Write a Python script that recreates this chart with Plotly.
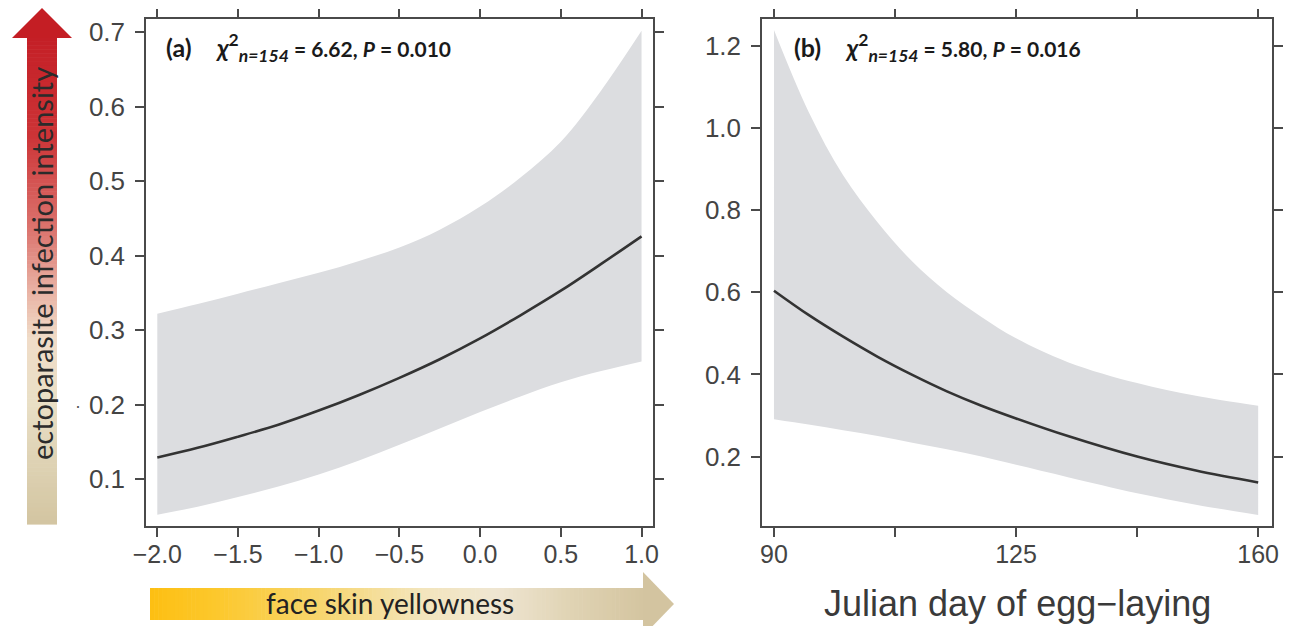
import plotly.graph_objects as go

# ---------------- data ----------------
yellow_x = [-2.0, -1.75, -1.5, -1.25, -1.0, -0.75, -0.5, -0.25, 0.0, 0.25, 0.5, 0.75, 1.0]
yellow_fit = [0.129, 0.142, 0.157, 0.173, 0.192, 0.213, 0.236, 0.261, 0.289, 0.320, 0.353, 0.389, 0.426]
yellow_upper = [0.322, 0.335, 0.349, 0.363, 0.377, 0.393, 0.411, 0.435, 0.466, 0.505, 0.553, 0.622, 0.702]
yellow_lower = [0.052, 0.063, 0.076, 0.090, 0.106, 0.125, 0.146, 0.168, 0.190, 0.211, 0.230, 0.245, 0.258]

day_x = [90, 95, 100, 105, 110, 115, 120, 125, 132.5, 142.5, 151, 160]
day_fit = [0.604, 0.545, 0.492, 0.443, 0.399, 0.359, 0.324, 0.293, 0.250, 0.200, 0.166, 0.137]
day_upper = [1.239, 1.040, 0.885, 0.770, 0.675, 0.600, 0.540, 0.488, 0.430, 0.379, 0.348, 0.324]
day_lower = [0.291, 0.278, 0.264, 0.250, 0.234, 0.218, 0.200, 0.180, 0.150, 0.111, 0.083, 0.058]

a_xticks = [-2.0, -1.5, -1.0, -0.5, 0.0, 0.5, 1.0]
a_xticklabels = ["\u22122.0", "\u22121.5", "\u22121.0", "\u22120.5", "0.0", "0.5", "1.0"]
a_yticks = [0.1, 0.2, 0.3, 0.4, 0.5, 0.6, 0.7]
b_xticks = [90, 107.5, 125, 142.5, 160]
b_xticklabels = ["90", "", "125", "", "160"]
b_yticks = [0.2, 0.4, 0.6, 0.8, 1.0, 1.2]

W, H = 1297, 626
def PX(x):
    return x / W
def PY(y):
    return 1 - y / H

BAND = "#dcdde0"
LINE = "#333333"
AXC = "#4a4a4a"
YTICKFONT = dict(family="Liberation Sans, Arial, sans-serif", size=26, color="#444444")
XTICKFONT = dict(family="Liberation Sans, Arial, sans-serif", size=25, color="#444444")

fig = go.Figure()

# panel a
fig.add_trace(go.Scatter(x=yellow_x, y=yellow_upper, mode="lines", line=dict(width=0, shape="spline"),
                         showlegend=False, hoverinfo="skip", xaxis="x", yaxis="y"))
fig.add_trace(go.Scatter(x=yellow_x, y=yellow_lower, mode="lines", line=dict(width=0, shape="spline"),
                         fill="tonexty", fillcolor=BAND, showlegend=False, hoverinfo="skip", xaxis="x", yaxis="y"))
fig.add_trace(go.Scatter(x=yellow_x, y=yellow_fit, mode="lines", line=dict(width=2.6, color=LINE, shape="spline"),
                         showlegend=False, xaxis="x", yaxis="y"))
# panel b
fig.add_trace(go.Scatter(x=day_x, y=day_upper, mode="lines", line=dict(width=0, shape="spline"),
                         showlegend=False, hoverinfo="skip", xaxis="x2", yaxis="y2"))
fig.add_trace(go.Scatter(x=day_x, y=day_lower, mode="lines", line=dict(width=0, shape="spline"),
                         fill="tonexty", fillcolor=BAND, showlegend=False, hoverinfo="skip", xaxis="x2", yaxis="y2"))
fig.add_trace(go.Scatter(x=day_x, y=day_fit, mode="lines", line=dict(width=2.6, color=LINE, shape="spline"),
                         showlegend=False, xaxis="x2", yaxis="y2"))

axis_common = dict(showline=True, linecolor=AXC, linewidth=1.5, mirror="ticks", ticks="outside",
                   ticklen=9, tickwidth=1.5, tickcolor=AXC, showgrid=False, zeroline=False,
                   automargin=False)

fig.update_layout(
    template="none",
    width=W, height=H, margin=dict(l=0, r=0, t=0, b=0, pad=0),
    paper_bgcolor="white", plot_bgcolor="white", showlegend=False,
    xaxis=dict(domain=[PX(146), PX(653)], range=[-2.07, 1.071], tickvals=a_xticks,
               ticktext=a_xticklabels, anchor="y", ticklabelstandoff=-4, tickfont=XTICKFONT, **axis_common),
    yaxis=dict(domain=[PY(526), PY(19.3)], range=[0.037, 0.7175], tickvals=a_yticks,
               tickformat=".1f", anchor="x", ticklabelstandoff=5, tickfont=YTICKFONT, **axis_common),
    xaxis2=dict(domain=[PX(762), PX(1272)], range=[88.27, 162.0], tickvals=b_xticks,
                ticktext=b_xticklabels, anchor="y2", ticklabelstandoff=-4, tickfont=XTICKFONT, **axis_common),
    yaxis2=dict(domain=[PY(526), PY(19.3)], range=[0.031, 1.265], tickvals=b_yticks,
                tickformat=".1f", anchor="x2", ticklabelstandoff=5, tickfont=YTICKFONT, **axis_common),
)

# ---------- gradient arrows (decoration) ----------
def hex2rgb(h):
    h = h.lstrip("#")
    return tuple(int(h[i:i + 2], 16) for i in (0, 2, 4))

def interp(stops, t):
    for (t0, c0), (t1, c1) in zip(stops[:-1], stops[1:]):
        if t0 <= t <= t1:
            f = 0 if t1 == t0 else (t - t0) / (t1 - t0)
            a, b = hex2rgb(c0), hex2rgb(c1)
            return "rgb(%d,%d,%d)" % tuple(round(a[i] + (b[i] - a[i]) * f) for i in range(3))
    return stops[-1][1]

shapes = []
# vertical arrow (infection intensity)
v_stops = [(0, "#c41f26"), (0.2, "#cc3336"), (0.4, "#dc7670"), (0.52, "#e9b2a4"),
           (0.62, "#f0dcc8"), (0.75, "#e9dfc6"), (1.0, "#d3c5a1")]
top, bot, N = 37, 524, 120
for i in range(N):
    y0 = top + (bot - top) * i / N
    y1 = top + (bot - top) * (i + 1) / N + 0.6
    c = interp(v_stops, (i + 0.5) / N)
    shapes.append(dict(type="rect", xref="paper", yref="paper", x0=PX(27), x1=PX(57),
                       y0=PY(y1), y1=PY(y0), fillcolor=c, line=dict(width=0), layer="below"))
shapes.append(dict(type="path", xref="paper", yref="paper",
                   path="M %f,%f L %f,%f L %f,%f Z" % (PX(12), PY(38), PX(72), PY(38), PX(42), PY(8)),
                   fillcolor="#c41e24", line=dict(width=0)))
# horizontal arrow (yellowness)
h_stops = [(0, "#fdbf12"), (0.15, "#fcc930"), (0.35, "#f7d670"), (0.55, "#f3e5bc"),
           (0.7, "#efe6d2"), (0.85, "#e0d3b4"), (1.0, "#d4c5a0")]
left, right = 150, 644
for i in range(N):
    x0 = left + (right - left) * i / N
    x1 = left + (right - left) * (i + 1) / N + 0.6
    c = interp(h_stops, (i + 0.5) / N)
    shapes.append(dict(type="rect", xref="paper", yref="paper", x0=PX(x0), x1=PX(x1),
                       y0=PY(620), y1=PY(588), fillcolor=c, line=dict(width=0), layer="below"))
shapes.append(dict(type="path", xref="paper", yref="paper",
                   path="M %f,%f L %f,%f L %f,%f Z" % (PX(643), PY(572), PX(643), PY(636), PX(674), PY(604)),
                   fillcolor="#d3c4a0", line=dict(width=0)))
fig.update_layout(shapes=shapes)

LABELFONT = "Lato, Open Sans, sans-serif"
ann = []
ann.append(dict(text="ectoparasite infection intensity", x=PX(42), y=PY(264), xref="paper", yref="paper",
                textangle=-90, showarrow=False, xanchor="center", yanchor="middle",
                font=dict(family=LABELFONT, size=29, color="#2b2b2b")))
ann.append(dict(text="face skin yellowness", x=PX(390), y=PY(603), xref="paper", yref="paper",
                showarrow=False, xanchor="center", yanchor="middle",
                font=dict(family=LABELFONT, size=28, color="#222222")))
ann.append(dict(text="Julian day of egg\u2212laying", x=PX(1017), y=PY(603), xref="paper", yref="paper",
                showarrow=False, xanchor="center", yanchor="middle",
                font=dict(family="Liberation Sans, Arial, sans-serif", size=36, color="#3a3a3a")))
stat_a = ("<b>(a)</b>    <b><i>\u03c7</i><sup>2</sup><sub><i>n=154</i></sub>"
          "<span style='font-size:21px'> = 6.62, <i>P</i> = 0.010</span></b>")
stat_b = ("<b>(b)</b>    <b><i>\u03c7</i><sup>2</sup><sub><i>n=154</i></sub>"
          "<span style='font-size:21px'> = 5.80, <i>P</i> = 0.016</span></b>")
ann.append(dict(text=stat_a, x=PX(164), y=PY(47), xref="paper", yref="paper", showarrow=False,
                xanchor="left", yanchor="middle", font=dict(family=LABELFONT, size=25, color="#1a1a1a")))
ann.append(dict(text=stat_b, x=PX(792), y=PY(47), xref="paper", yref="paper", showarrow=False,
                xanchor="left", yanchor="middle", font=dict(family=LABELFONT, size=25, color="#1a1a1a")))
ann.append(dict(text="\u00b7", x=PX(78), y=PY(406), xref="paper", yref="paper", showarrow=False,
                xanchor="center", yanchor="middle", font=dict(family="Liberation Sans", size=18, color="#555555")))
fig.update_layout(annotations=ann)

fig.write_html("out.html", config={"displayModeBar": False},
               post_script="document.body.style.margin='0';document.body.style.overflow='hidden';")
